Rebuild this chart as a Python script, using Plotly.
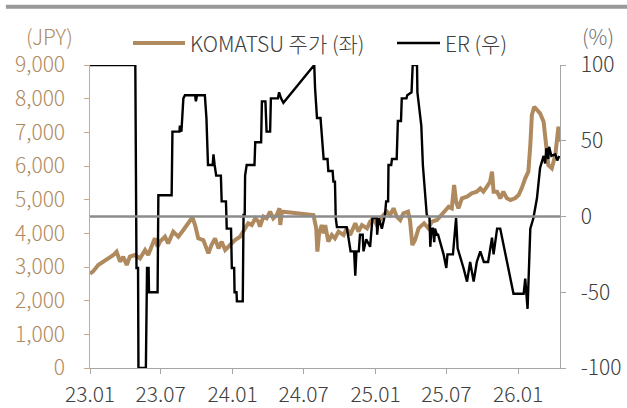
import plotly.graph_objects as go

# ---------------- data ----------------
price_dates = ["2023-01-01","2023-01-09","2023-01-22","2023-02-04","2023-02-17","2023-03-02","2023-03-10","2023-03-19",
"2023-03-27","2023-04-05","2023-04-13","2023-04-26","2023-05-09","2023-05-22","2023-05-30","2023-06-08","2023-06-16",
"2023-06-23","2023-06-29","2023-07-12","2023-07-20","2023-08-02","2023-08-15","2023-08-28","2023-09-10","2023-09-20",
"2023-09-27","2023-10-05","2023-10-18","2023-10-31","2023-11-08","2023-11-17","2023-11-26","2023-12-04","2023-12-13",
"2023-12-26","2024-01-07","2024-01-20","2024-02-02","2024-02-10","2024-02-19","2024-02-28","2024-03-07","2024-03-11",
"2024-03-20","2024-03-28","2024-04-06","2024-04-14","2024-04-23","2024-04-30","2024-05-02","2024-05-06","2024-05-10",
"2024-07-26","2024-08-02","2024-08-05","2024-08-09","2024-08-16","2024-08-22","2024-08-25","2024-09-02","2024-09-11",
"2024-09-19","2024-09-28","2024-10-11","2024-10-19","2024-10-28","2024-11-10","2024-11-18","2024-11-27","2024-12-10",
"2024-12-18","2024-12-26","2025-01-04","2025-01-13","2025-01-21","2025-01-30","2025-02-07","2025-02-16","2025-02-24",
"2025-03-05","2025-03-13","2025-03-25","2025-03-30","2025-04-05","2025-04-12","2025-04-21","2025-05-05","2025-05-16",
"2025-05-25","2025-06-07","2025-06-24","2025-07-07","2025-07-15","2025-07-21","2025-07-26","2025-08-01","2025-08-10",
"2025-08-23","2025-09-04","2025-09-17","2025-09-26","2025-10-04","2025-10-13","2025-10-21","2025-10-26","2025-10-30",
"2025-11-08","2025-11-16","2025-11-24","2025-12-03","2025-12-12","2025-12-24","2026-01-02","2026-01-10","2026-01-19",
"2026-01-27","2026-02-01","2026-02-05","2026-02-11","2026-02-18","2026-02-26","2026-03-07","2026-03-11","2026-03-15",
"2026-03-19","2026-03-28","2026-04-06","2026-04-14","2026-04-17"]
price_values = [2800,2870,3059,3157,3257,3356,3455,3157,
3306,3059,3306,3356,3257,3505,3356,3603,3852,
3603,3752,3900,3703,4050,3900,4099,4298,4476,
4247,3852,3802,3406,3653,3852,3555,3752,3505,
3653,3802,3900,4149,4298,4247,4446,4347,4197,
4496,4446,4644,4446,4545,4743,4247,4644,4644,
4545,4149,3455,3950,4247,4000,4247,3752,3950,
3852,4050,3950,4149,3950,4298,4050,4247,4149,
4347,4446,4247,4396,4545,4644,4545,4743,4496,
4396,4595,4644,4396,3653,3802,4149,4298,4149,
4347,4396,4644,4792,4743,5435,4940,4743,5040,
5089,5188,5237,5337,5237,5386,5534,5830,5237,
5237,5040,5237,5040,4990,5040,5138,5337,5634,
5830,6623,7514,7761,7663,7564,7315,6822,6424,
6029,5931,6326,7167,6721]

er_dates = ["2023-01-01","2023-04-27","2023-04-30","2023-05-04","2023-05-05","2023-05-24","2023-05-27","2023-05-31",
"2023-06-01","2023-06-23","2023-06-25","2023-07-29","2023-07-31","2023-08-18","2023-08-19","2023-08-23","2023-08-28",
"2023-09-01","2023-09-27","2023-09-29","2023-10-02","2023-10-22","2023-10-26","2023-10-30","2023-11-11","2023-11-13",
"2023-11-16","2023-11-20","2023-12-02","2023-12-04","2023-12-15","2023-12-17","2023-12-28","2023-12-30","2024-01-05",
"2024-01-06","2024-01-11","2024-01-12","2024-01-27","2024-01-29","2024-02-01","2024-02-02","2024-02-06","2024-02-26",
"2024-02-28","2024-03-14","2024-03-16","2024-03-25","2024-03-28","2024-04-06","2024-04-08","2024-04-26","2024-04-29",
"2024-05-04","2024-05-10","2024-07-28","2024-07-30","2024-08-04","2024-08-13","2024-08-16","2024-08-21","2024-08-31",
"2024-09-02","2024-09-13","2024-09-15","2024-09-19","2024-09-21","2024-09-24","2024-10-19","2024-10-23","2024-10-29",
"2024-11-07","2024-11-10","2024-11-13","2024-11-19","2024-11-22","2024-11-29","2024-12-01","2024-12-08","2024-12-18",
"2024-12-24","2025-01-04","2025-01-05","2025-01-09","2025-01-17","2025-01-25","2025-01-28","2025-02-02","2025-02-03",
"2025-02-10","2025-02-12","2025-02-24","2025-02-27","2025-03-07","2025-03-09","2025-03-21","2025-03-23","2025-04-03",
"2025-04-06","2025-04-17","2025-04-18","2025-04-28","2025-05-02","2025-05-12","2025-05-19","2025-05-21","2025-05-24",
"2025-05-28","2025-05-31","2025-06-02","2025-06-07","2025-06-10","2025-06-24","2025-07-01","2025-07-04","2025-07-18",
"2025-07-20","2025-07-26","2025-07-30","2025-08-10","2025-08-14","2025-08-23","2025-08-31","2025-09-09","2025-09-17",
"2025-09-26","2025-10-05","2025-10-16","2025-10-26","2025-10-30","2025-11-08","2025-11-16","2025-11-29","2025-12-07",
"2025-12-16","2025-12-20","2026-01-15","2026-01-19","2026-01-25","2026-02-01","2026-02-09","2026-02-18","2026-02-26",
"2026-03-07","2026-03-11","2026-03-14","2026-03-19","2026-03-21","2026-03-27","2026-04-06","2026-04-11","2026-04-16"]
er_values = [100,100,-34,-34,-100,-100,-34,-34,
-50,-50,14,14,56,56,60,56,78,
80,80,76,80,80,65,34,34,41,
34,27,27,10,10,-8,-8,-34,-34,
-50,-50,-56,-56,1,1,27,34,34,
49,49,76,76,56,56,78,78,82,
78,75,100,85,65,65,54,38,38,
30,30,23,23,-1,-7,-7,-13,-23,
-23,-39,-23,-23,-12,-12,-23,-15,-20,
-1,-1,-12,-1,-8,1,10,10,34,
34,38,38,63,63,78,78,80,82,
100,100,82,60,34,1,-1,-20,-8,
-8,-17,-8,-12,-12,-25,-34,-25,-25,
-19,-1,-21,-30,-34,-43,-30,-43,-30,
-23,-30,-30,-14,-25,-8,-8,-25,-36,
-47,-51,-51,-41,-61,-8,-1,12,32,
40,35,45,38,46,40,41,37,40]

tick_dates = ["2023-01-01","2023-07-01","2024-01-01","2024-07-01","2025-01-01","2025-07-01","2026-01-01"]
tick_labels = ["23.01","23.07","24.01","24.07","25.01","25.07","26.01"]
left_ticks = [0,1000,2000,3000,4000,5000,6000,7000,8000,9000]
left_labels = ["0","1,000","2,000","3,000","4,000","5,000","6,000","7,000","8,000","9,000"]
right_ticks = [-100,-50,0,50,100]
right_labels = ["-100","-50","0","50","100"]
series_names = ["KOMATSU 주가 (좌)", "ER (우)"]

TAN = "#b08a5f"
FONT = "Noto Sans CJK KR Light, Noto Sans CJK KR, sans-serif"
TXT = "#404040"

fig = go.Figure()
fig.add_trace(go.Scatter(x=price_dates, y=price_values, mode="lines", name=series_names[0],
                         line=dict(color=TAN, width=4), yaxis="y", showlegend=False))
fig.add_trace(go.Scatter(x=er_dates, y=er_values, mode="lines", name=series_names[1],
                         line=dict(color="#000000", width=2.4), yaxis="y2", showlegend=False))

# zero line of right axis
fig.add_shape(type="line", xref="paper", yref="y2", x0=0, x1=1, y0=0, y1=0,
              line=dict(color="#8c8c8c", width=2.5), layer="above")
# decorative top bar
fig.add_shape(type="line", xref="paper", yref="paper", x0=-0.179, x1=1.15, y0=1.1925, y1=1.1925,
              line=dict(color="#9a9a9a", width=4))

# legend (drawn manually to match line-sample length)
LY = 1.0726
fig.add_shape(type="line", xref="paper", yref="paper", x0=0.0915, x1=0.2021, y0=LY, y1=LY,
              line=dict(color=TAN, width=4))
fig.add_annotation(text=series_names[0], xref="paper", yref="paper", x=0.2085, y=LY, xanchor="left",
                   yanchor="middle", showarrow=False, font=dict(family=FONT, size=21, color=TXT))
fig.add_shape(type="line", xref="paper", yref="paper", x0=0.6532, x1=0.7447, y0=LY, y1=LY,
              line=dict(color="#000000", width=2.4))
fig.add_annotation(text=series_names[1], xref="paper", yref="paper", x=0.7510, y=LY, xanchor="left",
                   yanchor="middle", showarrow=False, font=dict(family=FONT, size=21, color=TXT))

fig.add_annotation(text="(JPY)", xref="paper", yref="paper", x=-0.0862, y=1.095, showarrow=False,
                   xanchor="center", yanchor="middle", font=dict(family=FONT, size=21, color=TAN))
fig.add_annotation(text="(%)", xref="paper", yref="paper", x=1.0809, y=1.095, showarrow=False,
                   xanchor="center", yanchor="middle", font=dict(family=FONT, size=21, color="#707070"))

fig.update_layout(
    width=627, height=408,
    margin=dict(l=90, r=67, t=65, b=40, autoexpand=False),
    paper_bgcolor="white", plot_bgcolor="white",
    font=dict(family=FONT, size=21, color=TXT),
    showlegend=False,
    xaxis=dict(type="date", range=["2023-01-01", "2026-04-18"], tickvals=tick_dates, ticktext=tick_labels,
               showgrid=False, zeroline=False, showline=True, linecolor="#a6a6a6", linewidth=1,
               ticks="outside", ticklen=5, tickcolor="#a6a6a6", automargin=False, ticklabelstandoff=3,
               tickfont=dict(family=FONT, size=21, color=TXT)),
    yaxis=dict(range=[0, 9000], tickvals=left_ticks, ticktext=[t + "\u2002\u2009" for t in left_labels],
               showgrid=False, zeroline=False,
               showline=True, linecolor="#c9ab88", linewidth=1, ticks="outside", ticklen=5, tickcolor="#c9ab88",
               automargin=False, tickfont=dict(family=FONT, size=21, color=TAN)),
    yaxis2=dict(range=[-100, 100], tickvals=right_ticks, ticktext=["\u2002" + t for t in right_labels],
                overlaying="y", side="right", showgrid=False,
                zeroline=False, showline=True, linecolor="#a6a6a6", linewidth=1, ticks="outside", ticklen=5,
                tickcolor="#a6a6a6", automargin=False,
                tickfont=dict(family=FONT, size=21, color=TXT)),
)

fig.write_html("out.html", config={"displayModeBar": False},
               post_script="document.body.style.margin='0';document.body.style.padding='0';")
